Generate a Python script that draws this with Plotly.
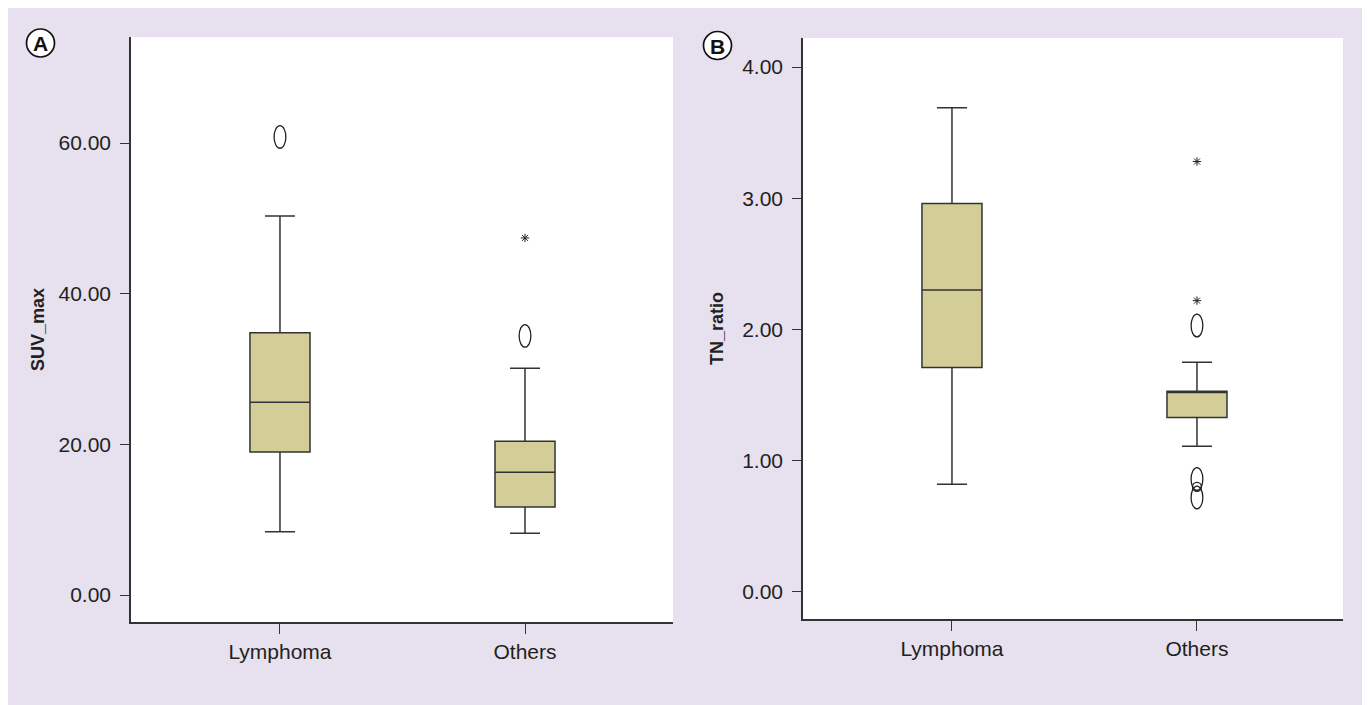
import plotly.graph_objects as go

# ---------------- data ----------------
categories = ["Lymphoma", "Others"]

# Panel A: SUV_max
suv_q1 = [19.0, 11.7]
suv_median = [25.6, 16.3]
suv_q3 = [34.8, 20.4]
suv_lower = [8.4, 8.2]
suv_upper = [50.3, 30.1]
suv_out_circle_x = [0, 1]          # mild outliers (O)
suv_out_circle_y = [60.8, 34.4]
suv_out_star_x = [1]               # extreme outliers (*)
suv_out_star_y = [47.4]

# Panel B: TN_ratio
tn_q1 = [1.71, 1.33]
tn_median = [2.30, 1.52]
tn_q3 = [2.96, 1.53]
tn_lower = [0.82, 1.11]
tn_upper = [3.69, 1.75]
tn_out_circle_x = [1, 1, 1]
tn_out_circle_y = [2.03, 0.86, 0.72]
tn_out_small_x = [1]
tn_out_small_y = [0.80]
tn_out_star_x = [1, 1]
tn_out_star_y = [3.28, 2.22]

y_ticks_a = [0, 20, 40, 60]
y_ticks_b = [0, 1, 2, 3, 4]

# ---------------- style ----------------
OFF = 8                      # page body margin
W, H = 1370 - OFF, 705 - OFF
LAV = "#E6E0EF"
BOX_FILL = "#D3CE97"
LINE = "#333333"
TXT = "#231F20"
FONT = "Liberation Sans"

def px(x):
    return (x - OFF) / W

def py(y):
    return 1 - (y - OFF) / H

fig = go.Figure()

def add_panel(q1, med, q3, lo, hi, xa, ya):
    for i, c in enumerate(categories):
        fig.add_trace(go.Box(
            x=[i], q1=[q1[i]], median=[med[i]], q3=[q3[i]],
            lowerfence=[lo[i]], upperfence=[hi[i]],
            width=0.245, whiskerwidth=0.5, boxpoints=False,
            fillcolor=BOX_FILL, line=dict(color=LINE, width=1.5),
            xaxis=xa, yaxis=ya, showlegend=False, hoverinfo="skip",
        ))

add_panel(suv_q1, suv_median, suv_q3, suv_lower, suv_upper, "x", "y")
add_panel(tn_q1, tn_median, tn_q3, tn_lower, tn_upper, "x2", "y2")

# star outliers
star = dict(symbol="asterisk-open", size=7, color="#222", line=dict(width=1.0, color="#222"))
fig.add_trace(go.Scatter(x=suv_out_star_x, y=suv_out_star_y, mode="markers",
                         marker=star, xaxis="x", yaxis="y", showlegend=False))
fig.add_trace(go.Scatter(x=tn_out_star_x, y=tn_out_star_y, mode="markers",
                         marker=star, xaxis="x2", yaxis="y2", showlegend=False))
fig.add_trace(go.Scatter(x=tn_out_small_x, y=tn_out_small_y, mode="markers",
                         marker=dict(symbol="circle-open", size=9, color="#222",
                                     line=dict(width=1.3, color="#222")),
                         xaxis="x2", yaxis="y2", showlegend=False))

shapes = []
# elliptical "O" outliers (ellipse size ~12 x 23 px)
for xv, yv in zip(suv_out_circle_x, suv_out_circle_y):
    shapes.append(dict(type="circle", xref="x", yref="y",
                       x0=xv - 0.024, x1=xv + 0.024, y0=yv - 1.5, y1=yv + 1.5,
                       line=dict(color="#222", width=1.3), fillcolor="rgba(0,0,0,0)"))
for xv, yv in zip(tn_out_circle_x, tn_out_circle_y):
    shapes.append(dict(type="circle", xref="x2", yref="y2",
                       x0=xv - 0.024, x1=xv + 0.024, y0=yv - 0.087, y1=yv + 0.087,
                       line=dict(color="#222", width=1.3), fillcolor="rgba(0,0,0,0)"))

# panel letter circles
for cx, cy in [(40.5, 43), (717.5, 45.5)]:
    shapes.append(dict(type="circle", xref="paper", yref="paper",
                       x0=px(cx - 14), x1=px(cx + 14), y0=py(cy + 14), y1=py(cy - 14),
                       line=dict(color="#111", width=1.7), fillcolor="white"))

annotations = [
    dict(text="<b>A</b>", x=px(40.5), y=py(43.5), xref="paper", yref="paper",
         showarrow=False, font=dict(family=FONT, size=21, color="#111"),
         xanchor="center", yanchor="middle"),
    dict(text="<b>B</b>", x=px(717.5), y=py(46), xref="paper", yref="paper",
         showarrow=False, font=dict(family=FONT, size=21, color="#111"),
         xanchor="center", yanchor="middle"),
]

axis_common = dict(showline=True, linecolor=LINE, linewidth=1.5, ticks="outside",
                   tickcolor=LINE, tickwidth=1.3, showgrid=False, zeroline=False,
                   tickfont=dict(family=FONT, size=21, color=TXT))

fig.update_layout(
    width=W, height=H, margin=dict(l=0, r=0, t=0, b=0),
    paper_bgcolor=LAV, plot_bgcolor="white",
    font=dict(family=FONT, color=TXT),
    xaxis=dict(domain=[px(131), px(673)], range=[-0.608, 1.604], tickvals=[0, 1],
               ticktext=categories, ticklen=10, anchor="y", **axis_common),
    yaxis=dict(domain=[py(622), py(37)], range=[-3.58, 74.07], tickvals=y_ticks_a,
               tickformat=".2f", ticklen=9, ticklabelstandoff=5, anchor="x",
               title=dict(text="<b>SUV_max</b>", font=dict(family=FONT, size=18, color=TXT),
                          standoff=9),
               **axis_common),
    xaxis2=dict(domain=[px(803), px(1343)], range=[-0.608, 1.596], tickvals=[0, 1],
                ticktext=categories, ticklen=10, anchor="y2", **axis_common),
    yaxis2=dict(domain=[py(619), py(38)], range=[-0.206, 4.221], tickvals=y_ticks_b,
                tickformat=".2f", ticklen=9, ticklabelstandoff=5, anchor="x2",
                title=dict(text="<b>TN_ratio</b>", font=dict(family=FONT, size=18, color=TXT),
                           standoff=14),
                **axis_common),
    shapes=shapes,
    annotations=annotations,
)

fig.write_html("out.html")
